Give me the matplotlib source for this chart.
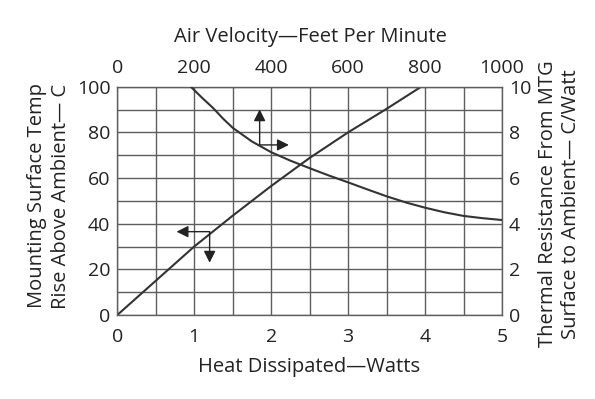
import matplotlib
matplotlib.use('Agg')
import matplotlib.pyplot as plt
import numpy as np

plt.rcParams['font.family'] = ['Open Sans', 'DejaVu Sans']

# heat dissipated (W) vs mounting surface temp rise (C) -> left/bottom axes
watts     = [0, 0.5, 1.0, 1.5, 2.0, 2.5, 3.0, 3.5, 3.95]
temp_rise = [0, 15, 30, 43.5, 56.5, 68.8, 80, 90.3, 100]

# air velocity (ft/min) vs thermal resistance (C/W) -> top/right axes
velocity   = [191, 220, 250, 275, 300, 350, 400, 450, 500, 550, 600, 650, 700,
              750, 800, 850, 900, 950, 1000]
resistance = [10, 9.52, 9.05, 8.6, 8.2, 7.6, 7.13, 6.76, 6.43, 6.11, 5.81, 5.5, 5.2,
              4.93, 4.70, 4.5, 4.34, 4.24, 4.16]

x_ticks   = [0, 1, 2, 3, 4, 5]
y_ticks   = [0, 20, 40, 60, 80, 100]
top_ticks = [0, 200, 400, 600, 800, 1000]
r_ticks   = [0, 2, 4, 6, 8, 10]

ink   = '#222222'
gridc = '#5e5e5e'
fs_tick = 14
fs_lab  = 14.5

fig = plt.figure(figsize=(5.95, 3.99), dpi=100, facecolor='white')
ax = fig.add_axes([117.3/595, 1-315/399, (502-117.3)/595, (315-86.7)/399])

xg = np.arange(0, 5.01, 0.5)
yg = np.arange(0, 101, 10)
ax.set_xlim(0, 5)
ax.set_ylim(0, 100)
ax.set_xticks(xg)
ax.set_yticks(yg)
ax.grid(True, color=gridc, linewidth=1.0)
ax.set_xticklabels([str(int(t)) if t in x_ticks else '' for t in xg])
ax.set_yticklabels([str(int(t)) if t in y_ticks else '' for t in yg])
ax.tick_params(length=0, labelsize=fs_tick, labelcolor=ink)
ax.tick_params(axis='x', pad=9)
ax.tick_params(axis='y', pad=5)
for s in ax.spines.values():
    s.set_color(gridc)
    s.set_linewidth(1.0)

ax.plot(watts, temp_rise, color='#333333', linewidth=1.5)

ax2 = ax.twinx()
ax2.set_ylim(0, 10)
ax2.set_yticks(r_ticks)
ax2.tick_params(length=0, labelsize=fs_tick, labelcolor=ink, pad=5)
ax3 = ax2.twiny()
ax3.set_xlim(0, 1000)
ax3.set_xticks(top_ticks)
ax3.tick_params(length=0, labelsize=fs_tick, labelcolor=ink, pad=7)
for a in (ax2, ax3):
    for s in a.spines.values():
        s.set_visible(False)
ax3.plot(velocity, resistance, color='#333333', linewidth=1.5)

# direction arrows
arr = dict(arrowstyle='-|>,head_length=0.7,head_width=0.35', color='#222222',
           lw=1.0, shrinkA=0, shrinkB=0)
ax.annotate('', xy=(1.85, 90.1), xytext=(1.85, 74.5), arrowprops=arr)
ax.annotate('', xy=(2.23, 74.5), xytext=(1.85, 74.5), arrowprops=arr)
ax.annotate('', xy=(0.77, 36.5), xytext=(1.20, 36.5), arrowprops=arr)
ax.annotate('', xy=(1.20, 22.9), xytext=(1.20, 36.5), arrowprops=arr)

fig.text(310/595, 1-37/399, 'Air Velocity\u2014Feet Per Minute', ha='center', va='center',
         fontsize=fs_lab, color=ink)
fig.text(309/595, 1-367/399, 'Heat Dissipated\u2014Watts', ha='center', va='center',
         fontsize=fs_lab, color=ink)
fig.text(49/595, 1-196/399, 'Mounting Surface Temp\nRise Above Ambient\u2014 C', rotation=90,
         ha='center', va='center', fontsize=fs_lab, color=ink, linespacing=1.2)
fig.text(559.5/595, 1-204/399, 'Thermal Resistance From MTG\nSurface to Ambient\u2014 C/Watt',
         rotation=90, ha='center', va='center', fontsize=fs_lab, color=ink, linespacing=1.2)

fig.savefig('out.png', dpi=100, facecolor='white')
